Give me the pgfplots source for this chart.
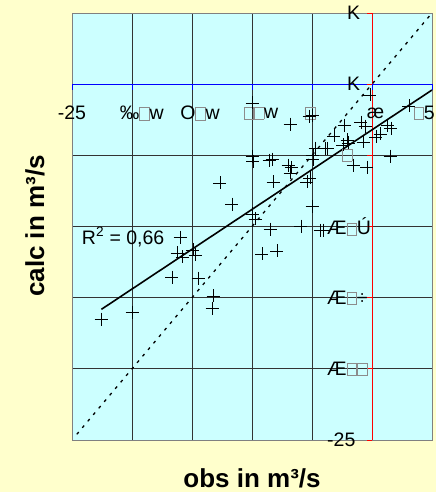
\documentclass[border=0pt]{standalone}
\usepackage{pgfplots}
\pgfplotsset{compat=1.18}
\usepackage{fontspec}
\setmainfont{Liberation Sans}
\definecolor{bgyellow}{HTML}{FFFFCC}
\definecolor{plotcyan}{HTML}{CCFFFF}
\newcommand\bx{{\color{gray!90}\setlength\fboxsep{0pt}\setlength\fboxrule{0.6pt}\fbox{\rule{0pt}{11.5pt}\hspace{9pt}}}}
\newcommand\tl{\fontsize{19.5}{21}\selectfont}
\begin{document}
\begin{tikzpicture}
\fill[bgyellow] (0,0) rectangle (436pt,492pt);
\useasboundingbox (0,0) rectangle (436pt,492pt);
\begin{axis}[
  at={(72pt,52pt)}, anchor=south west,
  scale only axis, width=360pt, height=427pt,
  xmin=-25, xmax=5, ymin=-25, ymax=5,
  xtick={-25,-20,...,5}, ytick={-25,-20,...,5},
  xticklabels={}, yticklabels={},
  major tick length=0pt,
  grid=major,
  major grid style={black!80, line width=0.8pt},
  axis line style={gray, line width=0.8pt},
  axis background/.style={fill=plotcyan},
  clip=false,
]
% axes through the origin
\draw[blue, line width=0.8pt] (axis cs:-25,0) -- (axis cs:5,0);
\draw[red, line width=0.8pt] (axis cs:0,-25) -- (axis cs:0,5);
\pgfplotsinvokeforeach{-25,-20,-15,-10,-5,0,5}{
  \draw[blue, line width=0.8pt] (axis cs:#1,0) -- ([yshift=-6pt]axis cs:#1,0);
  \draw[red, line width=0.8pt] (axis cs:0,#1) -- ([xshift=-5pt]axis cs:0,#1);
}
% 1:1 line
\addplot[black, line width=1.3pt, dash pattern=on 3pt off 5.5pt] coordinates {(-24.6,-24.6) (5,5)};
% trend line
\addplot[black, line width=1.6pt] coordinates {(-22.55,-15.82) (5,-0.41)};
% observations
\addplot[only marks, mark=+, mark size=6.5pt, black, mark options={line width=0.7pt}] coordinates {
(-10.00,-1.32) (-6.83,-2.80) (-5.25,-2.24) (-5.00,-2.17) (-0.17,-0.76) (3.08,-1.53)
(-2.33,-2.87) (-0.92,-2.66) (-0.58,-2.94) (1.25,-2.87) (1.58,-3.08) (-3.17,-3.64)
(-2.08,-3.92) (-2.00,-4.13) (-0.75,-4.06) (0.33,-3.71) (0.67,-3.50) (-3.75,-4.49)
(-2.42,-4.27) (1.50,-5.05) (-1.58,-5.68) (-0.42,-5.82) (-10.00,-5.05) (-9.92,-5.40)
(-8.58,-5.33) (-8.33,-5.26) (-7.00,-5.68) (-6.75,-5.82) (-4.75,-4.49) (-3.92,-4.49)
(-4.92,-4.98) (-4.92,-5.26) (-6.83,-6.24) (-8.25,-6.87) (-5.42,-6.87) (-5.17,-6.59)
(-11.67,-8.42) (-5.00,-8.56) (-10.00,-9.12) (-9.75,-9.47) (-8.50,-10.18) (-5.92,-9.97)
(-4.33,-10.25) (-4.08,-10.25) (-9.17,-11.93) (-7.92,-11.72) (-12.67,-6.94) (-16.00,-10.74)
(-16.25,-11.86) (-15.83,-12.14) (-14.92,-11.65) (-14.75,-12.00) (-16.67,-13.55) (-14.50,-13.62)
(-13.25,-14.88) (-13.33,-15.73) (-20.00,-16.01) (-22.58,-16.50)
};
% x tick labels along the y=0 axis
\node[font=\tl] at (axis cs:-25,-2.03) {-25};
\node[font=\tl] at (axis cs:-19.19,-2.03) {‰\bx w};
\node[font=\tl] at (axis cs:-14.33,-2.03) {O\bx w};
\node[font=\tl] at (axis cs:-9.25,-2.03) {\bx\bx w};
\node[font=\tl] at (axis cs:-5.12,-2.03) {\bx};
\node[font=\tl] at (axis cs:0.29,-2.03) {æ};
\node[font=\tl, anchor=east, inner sep=0pt] at (axis cs:5.25,-2.03) {\bx 5};
% y tick labels along the x=0 axis
\node[font=\tl, anchor=west, inner sep=0pt] at (axis cs:-2.08,5) {K};
\node[font=\tl, anchor=west, inner sep=0pt] at (axis cs:-2.08,0) {K};
\node[font=\tl, anchor=west, inner sep=0pt] at (axis cs:-2.5,-5) {\bx};
\node[font=\tl, anchor=west, inner sep=0pt] at (axis cs:-3.75,-10) {Æ\bx Ú};
\node[font=\tl, anchor=west, inner sep=0pt] at (axis cs:-3.75,-15) {Æ\bx ÷};
\node[font=\tl, anchor=west, inner sep=0pt] at (axis cs:-3.75,-20) {Æ\bx\bx};
\node[font=\tl, anchor=west, inner sep=0pt] at (axis cs:-3.75,-25) {-25};
% R^2
\node[font=\tl, anchor=west, inner sep=0pt] at (axis cs:-24.19,-10.74) {R\textsuperscript{2} = 0,66};
\end{axis}
\node[font=\fontsize{26}{28}\selectfont\bfseries] at (252pt,14pt) {obs in m³/s};
\node[font=\fontsize{26}{28}\selectfont\bfseries, rotate=90] at (35pt,266pt) {calc in m³/s};
\end{tikzpicture}
\end{document}
